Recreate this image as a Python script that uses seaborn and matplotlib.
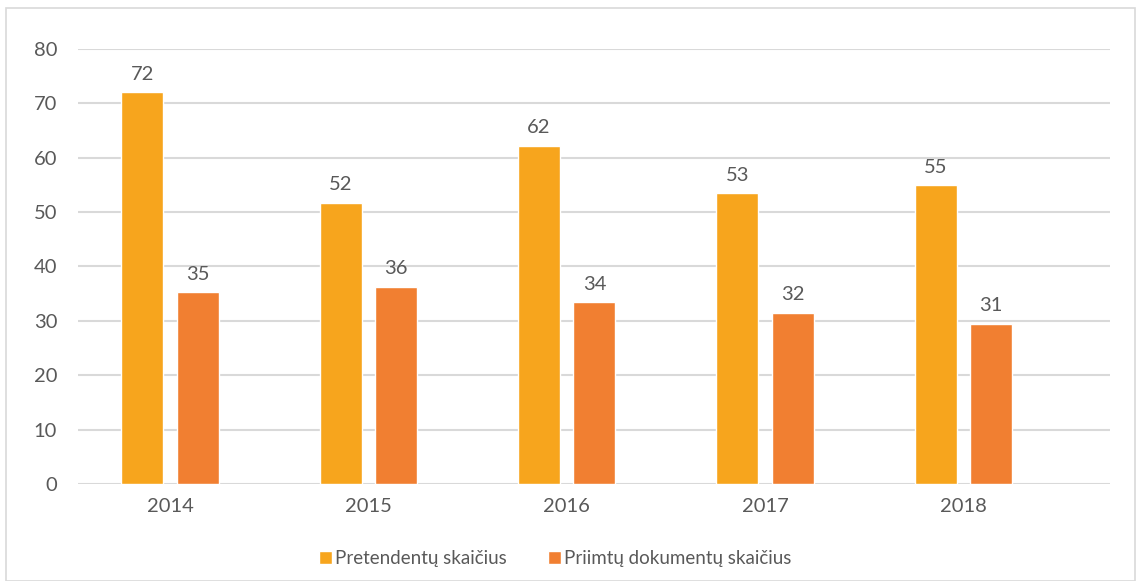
import matplotlib
matplotlib.use("Agg")
import matplotlib.pyplot as plt
import seaborn as sns
import pandas as pd
from matplotlib.patches import Rectangle

years = ["2014", "2015", "2016", "2017", "2018"]
series = ["Pretendentų skaičius", "Priimtų dokumentų skaičius"]
pretendentai = [72, 51.7, 62.2, 53.4, 54.9]
priimta = [35.2, 36.3, 33.4, 31.4, 29.4]
label_pret = ["72", "52", "62", "53", "55"]
label_priim = ["35", "36", "34", "32", "31"]

df = pd.DataFrame({
    "year": years * 2,
    "series": [series[0]] * 5 + [series[1]] * 5,
    "value": pretendentai + priimta,
})

colors = ["#F7A51D", "#F17F31"]
txt = "#595959"

sns.set_theme(style="white")
plt.rcParams["font.family"] = ["Lato", "DejaVu Sans"]

fig = plt.figure(figsize=(11.37, 5.81), dpi=100)
ax = fig.add_axes([0.0686, 0.167, 0.9077, 0.749])

sns.barplot(data=df, x="year", y="value", hue="series", palette=colors,
            width=0.56, gap=0.243, saturation=1, ax=ax, legend=True)

ax.set_ylim(0, 80)
ax.set_xlim(-0.464, 4.74)
ax.set_yticks(range(0, 81, 10))
ax.yaxis.grid(True, color="#d9d9d9", linewidth=1.5)
ax.set_axisbelow(True)
for s in ax.spines.values():
    s.set_visible(False)
ax.set_xlabel("")
ax.set_ylabel("")
ax.tick_params(axis="both", colors=txt, labelsize=14.5, length=0)
ax.tick_params(axis="x", pad=10)
ax.tick_params(axis="y", pad=15)

for cont, labs in zip(ax.containers, [label_pret, label_priim]):
    ax.bar_label(cont, labels=labs, padding=7, color=txt, fontsize=14.5)

handles, hl = ax.get_legend_handles_labels()
ax.legend(handles, hl, loc="center", bbox_to_anchor=(0.462, -0.172),
          ncol=2, frameon=False, fontsize=13.5, labelcolor=txt,
          handlelength=0.7, handleheight=0.7, handletextpad=0.15,
          columnspacing=2.2)

fig.patches.append(Rectangle((6 / 1137, 0), 1129 / 1137, 573 / 581,
                             transform=fig.transFigure, fill=False,
                             edgecolor="#d9d9d9", linewidth=1.2))

fig.savefig("out.png", dpi=100)
